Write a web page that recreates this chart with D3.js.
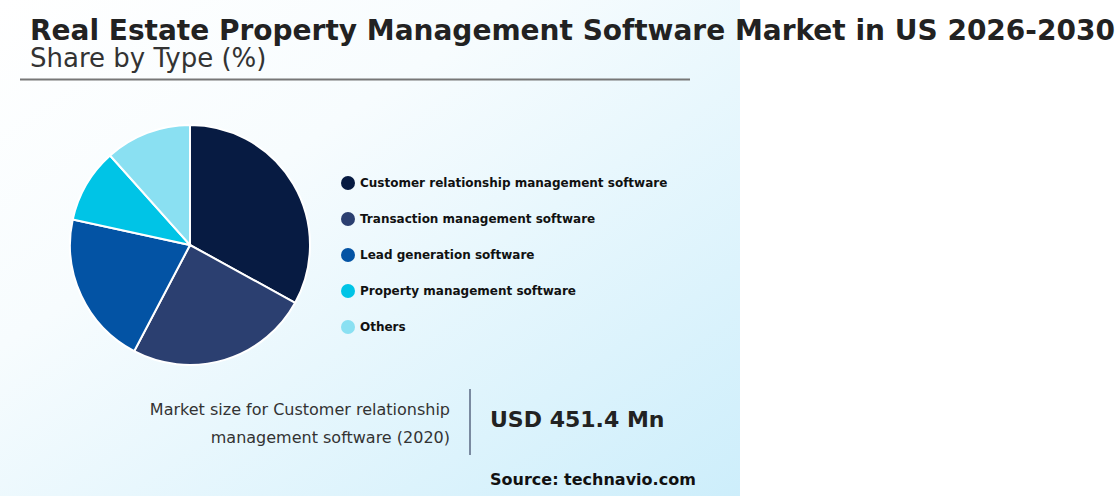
<!DOCTYPE html>
<html><head><meta charset="utf-8">
<script src="https://cdn.jsdelivr.net/npm/d3@7/dist/d3.min.js"></script>
<style>body{margin:0;background:#fff;} svg{display:block;font-family:"DejaVu Sans",sans-serif;}</style>
</head><body>
<svg id="c" width="1115" height="498"></svg>
<script>
const categories = ["Customer relationship management software","Transaction management software","Lead generation software","Property management software","Others"];
const shares = [33.0, 24.7, 20.7, 10.0, 11.6];
const colors = ["#071b42","#2b3f70","#0353a4","#00c4e6","#8ae0f2"];
const title = "Real Estate Property Management Software Market in US 2026-2030";
const subtitle = "Share by Type (%)";
const marketLabel = ["Market size for Customer relationship","management software (2020)"];
const marketValue = "USD 451.4 Mn";
const source = "Source: technavio.com";

const svg = d3.select("#c");
const defs = svg.append("defs");
const g = defs.append("linearGradient").attr("id","bg").attr("x1","0").attr("y1","0").attr("x2","1").attr("y2","1");
g.append("stop").attr("offset","0").attr("stop-color","#ffffff");
g.append("stop").attr("offset","0.35").attr("stop-color","#f7fcfe");
g.append("stop").attr("offset","1").attr("stop-color","#cdeefb");
svg.append("rect").attr("x",0).attr("y",0).attr("width",740).attr("height",496).attr("fill","url(#bg)");

svg.append("text").attr("x",30).attr("y",40).attr("font-size",28).attr("font-weight","bold").attr("fill","#222").text(title);
svg.append("text").attr("x",30).attr("y",67).attr("font-size",26).attr("fill","#333").text(subtitle);
svg.append("line").attr("x1",20).attr("x2",690).attr("y1",79.5).attr("y2",79.5).attr("stroke","#777").attr("stroke-width",2);

const pie = d3.pie().sort(null).value(d=>d);
const arc = d3.arc().innerRadius(0).outerRadius(120);
const color = d3.scaleOrdinal().domain(categories).range(colors);
svg.append("g").attr("transform","translate(190,245)")
  .selectAll("path").data(pie(shares)).join("path")
  .attr("d",arc).attr("fill",(d,i)=>color(categories[i]))
  .attr("stroke","#fff").attr("stroke-width",2);

const ly = d3.scalePoint().domain(categories).range([183,327]);
const leg = svg.append("g").selectAll("g").data(categories).join("g")
  .attr("transform",d=>`translate(348,${ly(d)})`);
leg.append("circle").attr("r",7).attr("fill",d=>color(d));
leg.append("text").attr("x",12).attr("y",4.3).attr("font-size",12).attr("font-weight","bold").attr("fill","#111").text(d=>d);

svg.append("text").attr("x",450).attr("y",415).attr("text-anchor","end").attr("font-size",16).attr("fill","#333").text(marketLabel[0]);
svg.append("text").attr("x",450).attr("y",443).attr("text-anchor","end").attr("font-size",16).attr("fill","#333").text(marketLabel[1]);
svg.append("line").attr("x1",470).attr("x2",470).attr("y1",389).attr("y2",455).attr("stroke","#7a8aa0").attr("stroke-width",2);
svg.append("text").attr("x",490).attr("y",427).attr("font-size",22).attr("font-weight","bold").attr("fill","#222").text(marketValue);
svg.append("text").attr("x",490).attr("y",485).attr("font-size",16).attr("font-weight","bold").attr("fill","#111").text(source);
</script>
</body></html>
